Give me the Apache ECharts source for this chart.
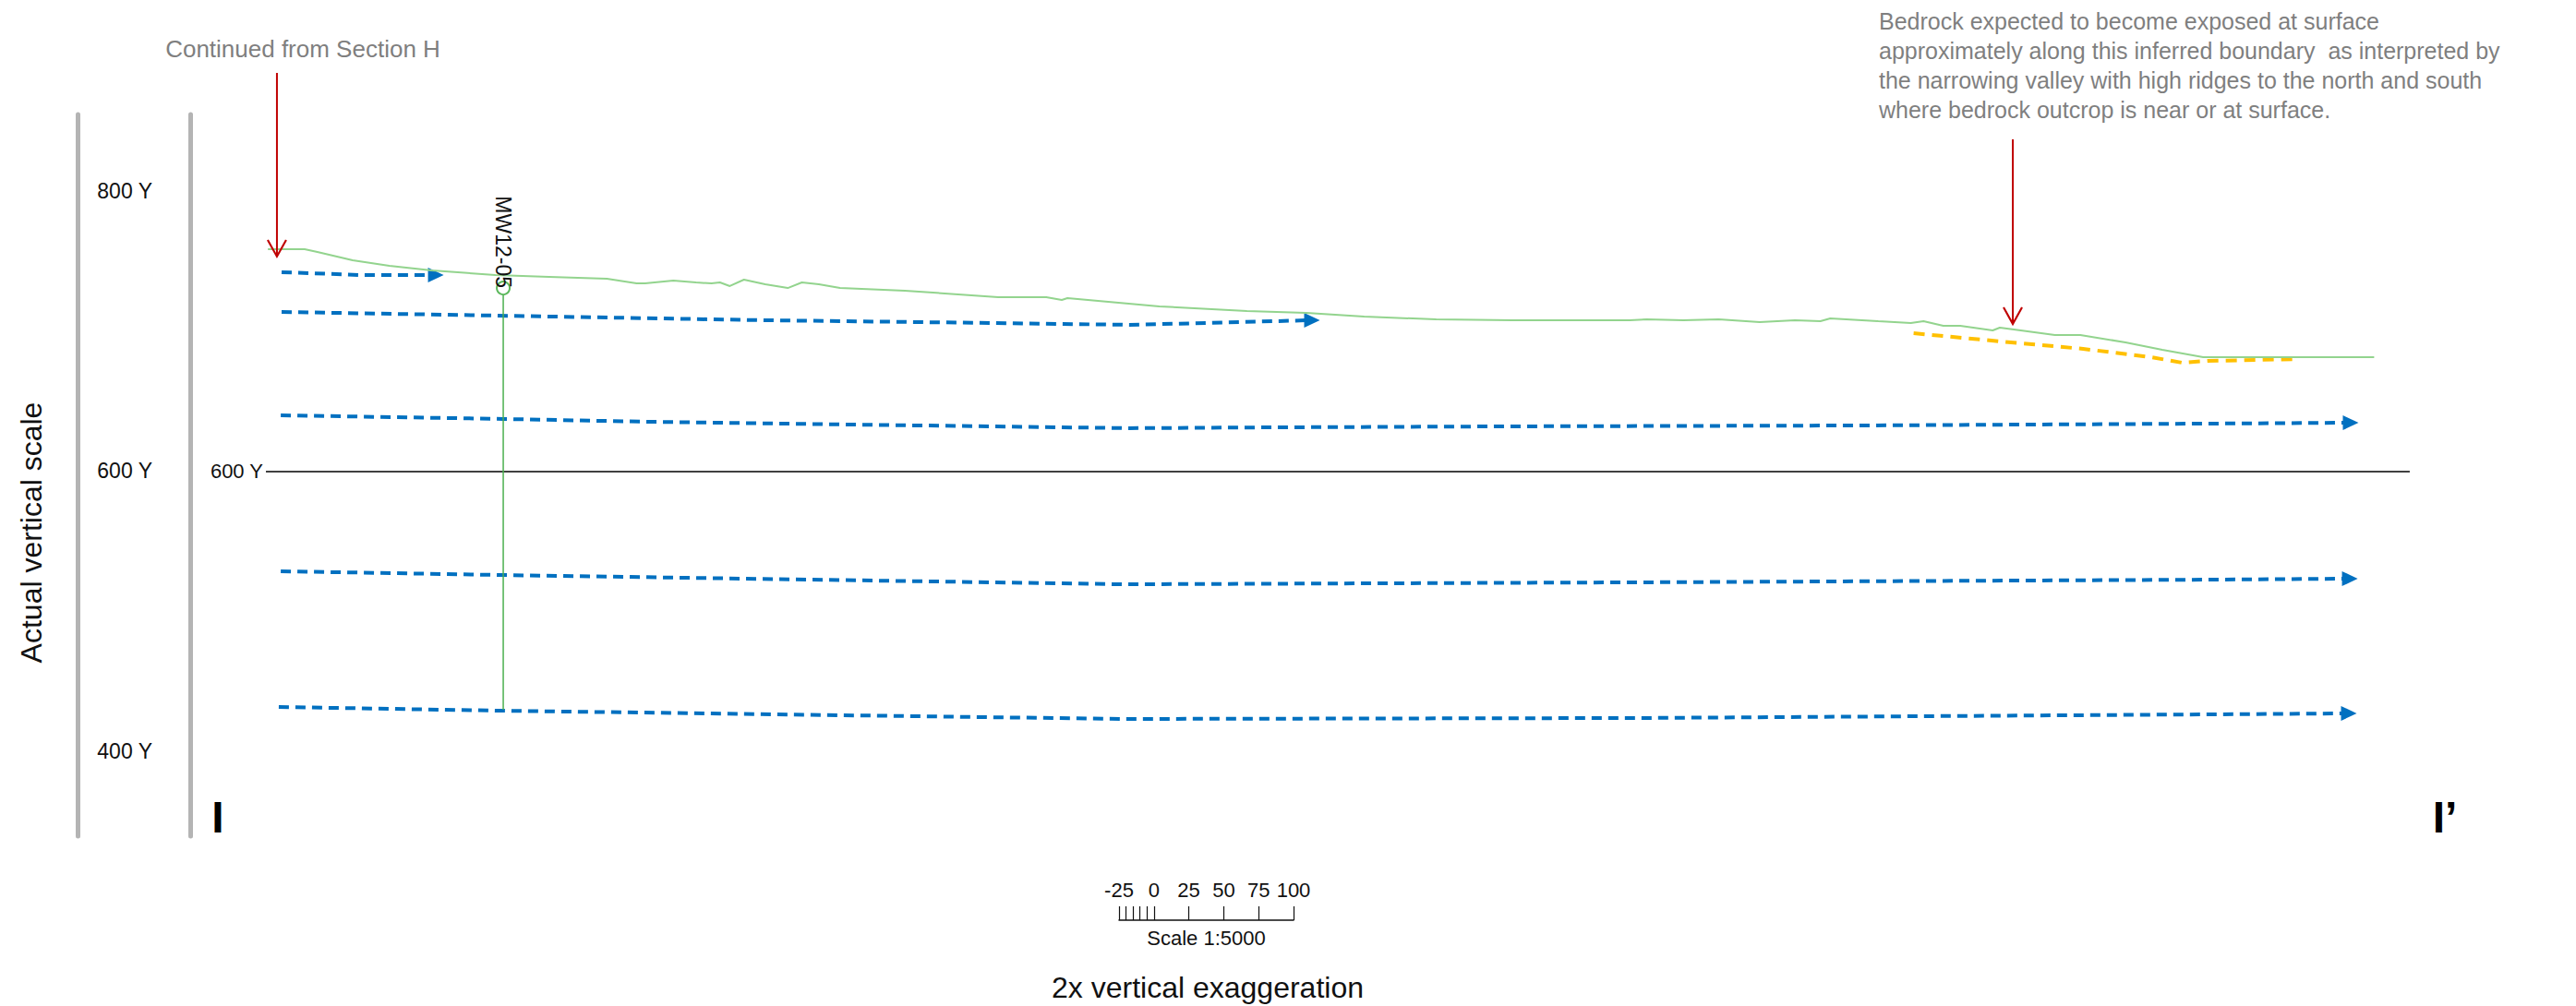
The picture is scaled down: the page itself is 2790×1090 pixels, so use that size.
<!DOCTYPE html>
<html><head><meta charset="utf-8">
<script src="https://cdn.jsdelivr.net/npm/echarts@6/dist/echarts.min.js"></script>
<style>html,body{margin:0;padding:0;background:#fff}#c{width:2790px;height:1090px}</style>
</head><body><div id="c"></div>
<script>
// ---- data: distance along section (m) and elevation (m) ----
const surfaceDist = [55,81,90,115,141,171,216,254,295,316,322,342,358,369,375,382,392,407,423,433,445,460,506,572,606,617,621,686,748,790,831,882,936,1019,1031,1057,1082,1111,1136,1154,1161,1195,1218,1227,1241,1253,1276,1281,1291,1320,1338,1370,1396,1425,1546];
const surfaceElev = [758.7,758.7,756.7,750.7,746.8,743.5,740.2,738.9,737.5,734.2,734.2,736.2,734.9,734.2,734.9,732.3,736.9,733.6,730.9,734.9,733.6,730.9,729.0,724.4,724.4,722.4,723.7,717.8,714.5,713.1,710.5,708.5,707.9,707.9,708.5,707.9,708.5,706.5,707.9,707.2,709.2,707.2,705.9,707.2,703.9,703.9,700.6,702.6,701.3,697.3,697.3,692.0,686.7,681.5,681.5];

const bedrockDist = [1220,1282,1340,1388,1410,1428,1492];
const bedrockElev = [698.6,692.7,687.4,681.5,677.5,678.8,680.1];

const flow1Dist = [64.7,120.3,173.9];
const flow1Elev = [742.2,740.2,740.2];
const flow2Dist = [64.7,216.3,403.9,519.0,664.7,719.0,794.1];
const flow2Elev = [713.8,711.2,707.9,706.5,704.6,705.9,707.9];
const flow3Dist = [64.1,221.6,322.9,519.0,664.7,769.3,935.9,1172.5,1433.9,1529.4];
const flow3Elev = [639.9,637.3,635.3,632.6,630.7,631.3,632.0,632.6,634.0,634.6];
const flow4Dist = [64.1,221.6,659.5,1029.4,1429.4,1528.8];
const flow4Elev = [528.4,525.7,519.1,520.5,522.4,523.1];
const flow5Dist = [62.7,221.6,659.5,1029.4,1429.4,1528.1];
const flow5Elev = [431.4,428.7,422.8,423.5,426.1,426.8];

const wellName = 'MW12-05';
const wellDist = [221.6, 221.6];
const wellElev = [730.9, 429.4];

const datumDist = [53.6, 1571.2];
const datumElev = 600;

const arrow1Dist = [61.4, 61.4];
const arrow1Elev = [884.7, 753.4];
const arrow2Dist = [1290.2, 1290.2];
const arrow2Elev = [837.2, 705.2];

const elevTickValues = [400, 600, 800];
const scaleLabelValues = [-25, 0, 25, 50, 75, 100];
const scaleTickValues = [-25, -20, -15, -10, -5, 0, 25, 50, 75, 100];

const noteText = 'Bedrock expected to become exposed at surface\napproximately along this inferred boundary  as interpreted by\nthe narrowing valley with high ridges to the north and south\nwhere bedrock outcrop is near or at surface.';

// ---- helpers ----
const FONT = "'Liberation Sans', Arial, sans-serif";
const zip = (xs, ys) => xs.map((x, i) => [x, ys[i]]);
function flowSeries(xs, ys) {
  const pts = zip(xs, ys).map((p, i, arr) => i === arr.length - 1
    ? { value: p, symbol: 'triangle', symbolSize: [16, 17], symbolRotate: -90, itemStyle: { color: '#0070c0' } }
    : { value: p, symbol: 'none' });
  return {
    type: 'line', xAxisIndex: 0, yAxisIndex: 0, data: pts, symbol: 'none', showSymbol: true,
    lineStyle: { color: '#0070c0', width: 4, type: [11, 7] }, itemStyle: { color: '#0070c0' },
    silent: true, z: 4, clip: false
  };
}
function redArrow(xs, ys) {
  const pts = zip(xs, ys).map((p, i, arr) => i === arr.length - 1
    ? { value: p, symbol: 'path://M0,0L10,18L20,0', symbolSize: [20, 18], symbolOffset: [0, '-50%'],
        itemStyle: { color: 'none', borderColor: '#c00000', borderWidth: 2 } }
    : { value: p, symbol: 'none' });
  return {
    type: 'line', xAxisIndex: 0, yAxisIndex: 0, data: pts, symbol: 'none', showSymbol: true,
    lineStyle: { color: '#c00000', width: 2 }, silent: true, z: 6, clip: false
  };
}

const chart = echarts.init(document.getElementById('c'), null, { renderer: 'svg' });
const option = {
  animation: false,
  backgroundColor: '#fff',
  grid: [
    { left: 206, right: 136, top: 124, height: 782, outerBoundsMode: 'none' },
    { left: 1212, width: 189, top: 960, height: 37, outerBoundsMode: 'none' }
  ],
  xAxis: [
    { gridIndex: 0, type: 'value', min: 0, max: 1600, show: false },
    { gridIndex: 1, type: 'value', min: -25, max: 100, interval: 25,
      axisLine: { show: true, lineStyle: { color: '#111', width: 1.5 } },
      axisTick: { show: true, inside: true, length: 15, customValues: scaleTickValues, lineStyle: { color: '#111', width: 1.2 } },
      axisLabel: { show: true, inside: true, margin: 22, customValues: scaleLabelValues, fontSize: 22, color: '#111', fontFamily: FONT },
      splitLine: { show: false },
      name: 'Scale 1:5000', nameLocation: 'middle', nameGap: 8,
      nameTextStyle: { fontSize: 22, color: '#111', fontFamily: FONT, verticalAlign: 'top' }
    }
  ],
  yAxis: [
    { gridIndex: 0, type: 'value', min: 339, max: 855, position: 'left',
      axisLine: { show: true, lineStyle: { color: '#b4b4b4', width: 5 } },
      axisTick: { show: false },
      axisLabel: { show: true, customValues: elevTickValues, formatter: '{value} Y', margin: 41, fontSize: 23, color: '#111', fontFamily: FONT },
      splitLine: { show: false } },
    { gridIndex: 0, type: 'value', min: 339, max: 855, position: 'left', offset: 122,
      axisLine: { show: true, lineStyle: { color: '#b4b4b4', width: 5 } },
      axisTick: { show: false }, axisLabel: { show: false }, splitLine: { show: false } },
    { gridIndex: 1, type: 'value', show: false, min: 0, max: 1 }
  ],
  series: [
    { type: 'line', name: 'datum', xAxisIndex: 0, yAxisIndex: 0, data: [], silent: true,
      markLine: { silent: true, symbol: ['none', 'none'],
        lineStyle: { color: '#404040', width: 2, type: 'solid' },
        label: { show: true, position: 'start', formatter: datumElev + ' Y', fontSize: 22, color: '#111', fontFamily: FONT, distance: 3 },
        data: [[{ coord: [datumDist[0], datumElev] }, { coord: [datumDist[1], datumElev] }]] } },
    flowSeries(flow1Dist, flow1Elev),
    flowSeries(flow2Dist, flow2Elev),
    flowSeries(flow3Dist, flow3Elev),
    flowSeries(flow4Dist, flow4Elev),
    flowSeries(flow5Dist, flow5Elev),
    { type: 'line', name: 'surface', xAxisIndex: 0, yAxisIndex: 0, data: zip(surfaceDist, surfaceElev),
      symbol: 'none', lineStyle: { color: '#93d48e', width: 2 }, silent: true, z: 5 },
    { type: 'line', name: 'bedrock', xAxisIndex: 0, yAxisIndex: 0, data: zip(bedrockDist, bedrockElev),
      symbol: 'none', lineStyle: { color: '#ffc000', width: 4, type: [12, 8] }, silent: true, z: 4 },
    { type: 'line', name: 'well', xAxisIndex: 0, yAxisIndex: 0, silent: true, z: 7,
      data: zip(wellDist, wellElev).map((p, i) => i === 0
        ? { value: p, symbol: 'emptyCircle', symbolSize: 14,
            itemStyle: { color: '#5cb85c', borderColor: '#5cb85c', borderWidth: 1.5 },
            label: { show: true, position: 'inside', formatter: wellName, rotate: -90, align: 'right', verticalAlign: 'middle',
                     fontSize: 23, color: '#111', fontFamily: FONT } }
        : { value: p, symbol: 'none' }),
      itemStyle: { color: '#5cb85c' },
      lineStyle: { color: '#4caf50', width: 1.5 } },
    redArrow(arrow1Dist, arrow1Elev),
    redArrow(arrow2Dist, arrow2Elev),
    { type: 'line', xAxisIndex: 1, yAxisIndex: 2, data: [], silent: true }
  ],
  graphic: [
    { type: 'text', x: 328, y: 53, style: { text: 'Continued from Section H', fill: '#7f7f7f', font: '26px ' + FONT, textAlign: 'center', textVerticalAlign: 'middle' } },
    { type: 'text', x: 2035, y: 7, style: { text: noteText, fill: '#7f7f7f', font: '25px ' + FONT, lineHeight: 32, textAlign: 'left', textVerticalAlign: 'top' } },
    { type: 'text', x: 34, y: 577, rotation: Math.PI / 2, style: { text: 'Actual vertical scale', fill: '#111', font: '32px ' + FONT, textAlign: 'center', textVerticalAlign: 'middle' } },
    { type: 'text', x: 236, y: 885, style: { text: 'I', fill: '#000', font: 'bold 48px ' + FONT, textAlign: 'center', textVerticalAlign: 'middle' } },
    { type: 'text', x: 2648, y: 885, style: { text: 'I\u2019', fill: '#000', font: 'bold 48px ' + FONT, textAlign: 'center', textVerticalAlign: 'middle' } },
    { type: 'text', x: 1308, y: 1070, style: { text: '2x vertical exaggeration', fill: '#111', font: '32px ' + FONT, textAlign: 'center', textVerticalAlign: 'middle' } }
  ]
};
chart.setOption(option);
</script>
</body></html>
